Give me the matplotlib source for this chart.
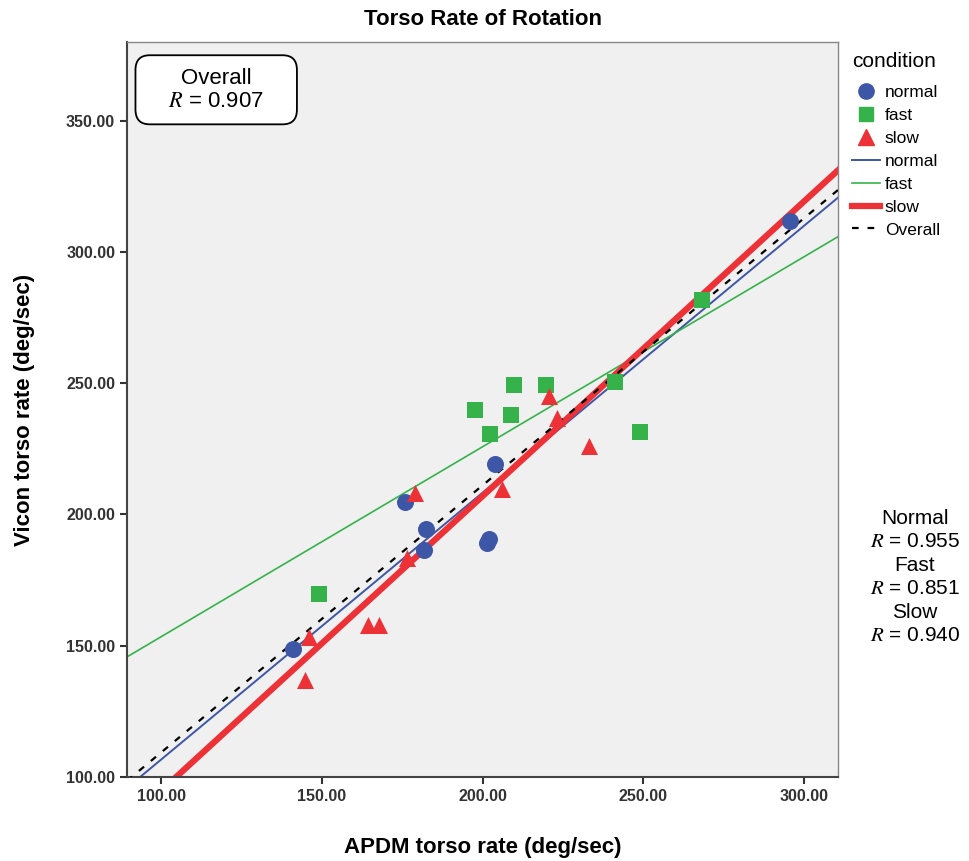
import numpy as np
import matplotlib
matplotlib.use("Agg")
import matplotlib.pyplot as plt
from matplotlib.lines import Line2D
from matplotlib.patches import FancyBboxPatch

plt.rcParams['font.family'] = ['Liberation Sans', 'DejaVu Sans']
plt.rcParams['mathtext.fontset'] = 'stix'

# data (deg/sec)
normal_x = [141.0, 175.9, 181.8, 182.4, 201.4, 202.0, 203.9, 295.6]
normal_y = [148.7, 204.9, 186.5, 194.4, 189.0, 190.5, 219.3, 312.0]
fast_x = [149.0, 197.7, 202.3, 208.7, 209.9, 219.8, 241.2, 249.0, 268.2]
fast_y = [169.7, 239.9, 230.7, 238.0, 249.4, 249.4, 250.6, 231.4, 281.8]
slow_x = [144.8, 146.1, 164.5, 167.9, 176.4, 179.0, 206.2, 220.7, 223.1, 233.2]
slow_y = [137.0, 153.5, 157.9, 157.9, 183.3, 208.1, 209.6, 245.2, 236.9, 226.2]

# fit lines (intercept, slope)
fit_normal = [4.9, 1.017]
fit_fast = [81.0, 0.724]
fit_slow = [-17.6, 1.123]
fit_overall = [7.5, 1.018]

r_overall = 0.907
r_normal, r_fast, r_slow = 0.955, 0.851, 0.940

xticks = [100, 150, 200, 250, 300]
yticks = [100, 150, 200, 250, 300, 350]

c_blue = '#3e56a6'
c_green = '#35b34a'
c_red = '#ec3237'

fig = plt.figure(figsize=(9.69, 8.61), dpi=100)
ax = fig.add_axes([0.131, 0.0976, 0.734, 0.8536])
ax.set_facecolor('#f0f0f0')
ax.set_xlim(89.4, 310.6)
ax.set_ylim(100, 380)

xs = np.array(ax.get_xlim())
ax.plot(xs, fit_normal[0] + fit_normal[1] * xs, color=c_blue, lw=1.4, zorder=2)
ax.plot(xs, fit_fast[0] + fit_fast[1] * xs, color=c_green, lw=1.2, zorder=2)
ax.plot(xs, fit_slow[0] + fit_slow[1] * xs, color=c_red, lw=4.5, zorder=2)
ax.plot(xs, fit_overall[0] + fit_overall[1] * xs, color='black', lw=1.6,
        ls=(0, (3, 4)), zorder=3)

ax.scatter(normal_x, normal_y, s=150, marker='o', color=c_blue, zorder=4, linewidths=0)
ax.scatter(fast_x, fast_y, s=140, marker='s', color=c_green, zorder=4, linewidths=0)
ax.scatter(slow_x, slow_y, s=150, marker='^', color=c_red, zorder=4, linewidths=0)

ax.set_xticks(xticks)
ax.set_yticks(yticks)
ax.set_xticklabels([f"{v:.2f}" for v in xticks])
ax.set_yticklabels([f"{v:.2f}" for v in yticks])
ax.tick_params(direction='out', length=5, width=1.5, labelsize=11.5, colors='#333333')
for lab in ax.get_xticklabels() + ax.get_yticklabels():
    lab.set_fontweight('bold')
for side in ['left', 'bottom']:
    ax.spines[side].set_color('#444444')
    ax.spines[side].set_linewidth(1.5)
for side in ['top', 'right']:
    ax.spines[side].set_color('#888888')
    ax.spines[side].set_linewidth(1.0)

ax.set_xlabel("APDM torso rate (deg/sec)", fontsize=16, fontweight='bold', labelpad=24)
ax.set_ylabel("Vicon torso rate (deg/sec)", fontsize=16, fontweight='bold', labelpad=22)
ax.set_title("Torso Rate of Rotation", fontsize=16, fontweight='bold', pad=12)

# rounded box for the overall R
box = FancyBboxPatch((0.012, 0.888), 0.227, 0.094, transform=ax.transAxes,
                     boxstyle='round,pad=0,rounding_size=0.02', fc='white',
                     ec='black', lw=1.3, zorder=5, mutation_aspect=1.0)
ax.add_patch(box)
ax.text(0.1255, 0.935, "Overall\n$R$ = %.3f" % r_overall, transform=ax.transAxes,
        ha='center', va='center', fontsize=16, linespacing=1.15, zorder=6)

fig.text(0.944, 0.33,
         "Normal\n$R$ = %.3f\nFast\n$R$ = %.3f\nSlow\n$R$ = %.3f" % (r_normal, r_fast, r_slow),
         ha='center', va='center', fontsize=15, linespacing=1.3,
         bbox=dict(boxstyle='square,pad=0.3', fc='white', ec='none'))

handles = [
    Line2D([], [], marker='o', ls='none', color=c_blue, markersize=11),
    Line2D([], [], marker='s', ls='none', color=c_green, markersize=10),
    Line2D([], [], marker='^', ls='none', color=c_red, markersize=11),
    Line2D([], [], color=c_blue, lw=1.4),
    Line2D([], [], color=c_green, lw=1.2),
    Line2D([], [], color=c_red, lw=4.5),
    Line2D([], [], color='black', lw=1.6, ls=(0, (3, 4))),
]
labels = ['normal', 'fast', 'slow', 'normal', 'fast', 'slow', 'Overall']
leg = fig.legend(handles, labels, title='condition', loc='upper left',
                 bbox_to_anchor=(0.872, 0.948), frameon=False, fontsize=12.5,
                 title_fontsize=15, handlelength=1.6, handletextpad=0.3,
                 labelspacing=0.45, borderaxespad=0)
leg._legend_box.align = 'left'
leg._legend_box.sep = 10

fig.savefig('out.png', dpi=100, facecolor='white')
